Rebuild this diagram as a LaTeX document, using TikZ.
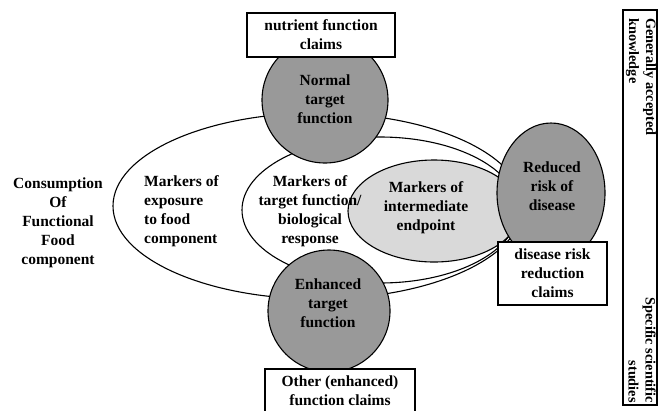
\documentclass[tikz,border=0pt]{standalone}
\usepackage{fontspec}
\setmainfont{Liberation Serif}
\usetikzlibrary{shapes.geometric,positioning}

\tikzset{
  oval/.style={draw, ellipse, line width=1.1pt, inner sep=0pt},
  disc/.style={draw, ellipse, line width=1.1pt, fill=black!40, inner sep=0pt},
  lbl/.style={align=center, inner sep=0pt, font=\bfseries\fontsize{15.5}{19}\selectfont},
  claimbox/.style={lbl, draw, rectangle, line width=1.1pt, fill=white},
  sidelbl/.style={inner sep=0pt, rotate=-90, font=\bfseries\fontsize{14.3}{17}\selectfont},
}

\begin{document}
\begin{tikzpicture}[x=1pt,y=-1pt]
\useasboundingbox (0,0) rectangle (660,410);

% nested ovals of markers
\node[oval, fill=white, minimum width=410pt, minimum height=186pt] (exposure) at (318,206) {};
\node[oval, fill=white, minimum width=276pt, minimum height=146pt] (response) at (380,210) {};
\node[oval, fill=black!15, minimum width=172pt, minimum height=102pt] (endpoint) at (434,211) {};

% outcomes
\node[disc, minimum width=126pt, minimum height=126pt] (normal) at (325,100) {};
\node[disc, minimum width=122pt, minimum height=122pt] (enhanced) at (329,311) {};
\node[disc, minimum width=108pt, minimum height=140pt] (reduced) at (551,193) {};

\node[lbl] (consumption) at (58,223) {Consumption\\Of\\Functional\\Food\\component};
\node[lbl, align=left, anchor=west] (exposuretxt) at (144,211) {Markers of\\exposure\\to food\\component};
\node[lbl] (responsetxt) at (310,211) {Markers of\\target function/\\biological\\response};
\node[lbl] (endpointtxt) at (426,208) {Markers of\\intermediate\\endpoint};
\node[lbl] (normaltxt) at (325,99) {Normal\\target\\function};
\node[lbl] (enhancedtxt) at (328,303) {Enhanced\\target\\function};
\node[lbl] (reducedtxt) at (552,186) {Reduced\\risk of\\disease};

% claims
\node[claimbox, minimum width=148pt, minimum height=44pt] (nutrient) at (321,35) {nutrient function\\claims};
\node[claimbox, minimum width=109pt, minimum height=63pt] (riskclaim) at (552.5,273.5) {disease risk\\reduction\\claims};
\node[claimbox, minimum width=150pt, minimum height=44pt] (otherclaim) at (340,391) {Other (enhanced)\\function claims};

% evidence scale
\node[draw, line width=1.1pt, minimum width=34pt, minimum height=395pt, inner sep=0pt] (scale) at (640,207.5) {};
\node[sidelbl, align=left, anchor=west] (general) at (641,18) {Generally accepted\\knowledge};
\node[sidelbl, align=right, anchor=east] (specific) at (642,403) {Specific scientific\\studies};
\end{tikzpicture}
\end{document}
